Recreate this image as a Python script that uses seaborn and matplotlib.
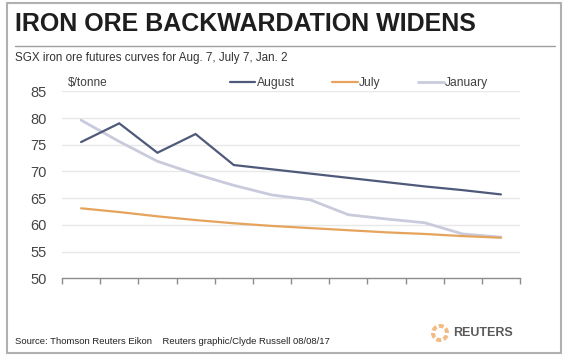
import numpy as np
import pandas as pd
import matplotlib
matplotlib.use("Agg")
import matplotlib.pyplot as plt
import seaborn as sns
from matplotlib.patches import Rectangle, Wedge
from matplotlib.lines import Line2D

# ---- data ----
contracts = [1, 2, 3, 4, 5, 6, 7, 8, 9, 10, 11, 12]
august = [75.5, 79.0, 73.5, 77.0, 71.2, 70.4, 69.6, 68.8, 68.0, 67.2, 66.5, 65.7]
july = [63.1, 62.4, 61.6, 60.9, 60.3, 59.8, 59.4, 59.0, 58.6, 58.3, 57.9, 57.6]
january = [79.6, 75.6, 71.9, 69.5, 67.4, 65.6, 64.7, 61.9, 61.1, 60.4, 58.3, 57.7]
series_names = ["August", "July", "January"]
yticks = [50, 55, 60, 65, 70, 75, 80, 85]

title = "IRON ORE BACKWARDATION WIDENS"
subtitle = "SGX iron ore futures curves for Aug. 7, July 7, Jan. 2"
unit_label = "$/tonne"
source = "Source: Thomson Reuters Eikon    Reuters graphic/Clyde Russell 08/08/17"

colors = {"August": "#4f5a7a", "July": "#e5a35c", "January": "#c9cbdd"}
widths = {"August": 1.6, "July": 1.6, "January": 2.0}

df = pd.DataFrame({"contract": contracts * 3,
                   "price": august + july + january,
                   "series": [s for s in series_names for _ in contracts]})

sns.set_theme(style="white")
plt.rcParams['font.family'] = ['Liberation Sans', 'DejaVu Sans']

W, H = 563, 355
fig = plt.figure(figsize=(W / 100, H / 100), dpi=100)
fig.patch.set_facecolor("white")

x0, x1 = 62, 520
y_top, y_bot = 91.3, 278.3
ax = fig.add_axes([x0 / W, 1 - y_bot / H, (x1 - x0) / W, (y_bot - y_top) / H])

for s in series_names:
    sub = df[df.series == s]
    sns.lineplot(data=sub, x="contract", y="price", ax=ax, color=colors[s],
                 linewidth=widths[s], legend=False, zorder=3 if s != "January" else 2,
                 solid_joinstyle="miter")

ax.set_xlim(contracts[0] - 0.5, contracts[-1] + 0.5)
ax.set_ylim(yticks[0], yticks[-1])
ax.set_yticks(yticks)
ax.set_xticks(np.array(contracts + [contracts[-1] + 1]) - 0.5)
ax.set_xticklabels([])
ax.set_xlabel("")
ax.set_ylabel("")
for yv in yticks[1:]:
    ax.axhline(yv, color="#e8e8e8", linewidth=1.0, zorder=0)
for sp in ["top", "right", "left"]:
    ax.spines[sp].set_visible(False)
ax.spines["bottom"].set_color("#8c8c8c")
ax.spines["bottom"].set_linewidth(1.0)
ax.tick_params(axis="x", direction="out", length=4, width=1, color="#8c8c8c", bottom=True)
ax.tick_params(axis="y", length=0, labelsize=10.5, labelcolor="#454545", pad=11)

# legend
handles = [Line2D([0], [0], color=colors[s], linewidth=widths[s]) for s in series_names]
leg = fig.legend(handles, series_names, loc="center left",
                 bbox_to_anchor=(230 / W, 1 - 83 / H), ncol=3, frameon=False,
                 fontsize=8.7, handlelength=2.1, handletextpad=0.12, columnspacing=3.1,
                 borderpad=0, borderaxespad=0)
for t in leg.get_texts():
    t.set_color("#404040")

# texts
fig.text(15 / W, 1 - 24 / H, title, fontsize=18, fontweight="bold", color="#1e1e1e",
         va="center", ha="left")
fig.add_artist(Line2D([15 / W, 555 / W], [1 - 46 / H, 1 - 46 / H], color="#a0a0a0", linewidth=1.0))
fig.text(15 / W, 1 - 58 / H, subtitle, fontsize=8.4, color="#333333", va="center", ha="left")
fig.text(68 / W, 1 - 83 / H, unit_label, fontsize=8.6, color="#404040", va="center", ha="left")
fig.text(15 / W, 1 - 342 / H, source, fontsize=6.8, color="#222222", va="center", ha="left")

# Reuters mark
fig.text(453 / W, 1 - 333 / H, "REUTERS", fontsize=9, fontweight="bold", color="#5a5a5a",
         va="center", ha="left")
for ang in range(0, 360, 60):
    w = Wedge((440, H - 333), 9, ang, ang + 40, width=4, transform=None,
              facecolor="#f0b070", edgecolor="none", alpha=0.85)
    fig.add_artist(w)

# outer frame
fig.add_artist(Rectangle((7 / W, 1 - 353 / H), 554 / W, 350 / H, transform=fig.transFigure,
                         fill=False, edgecolor="#b0b0b0", linewidth=1.5))

fig.savefig("out.png", dpi=100, facecolor="white")
